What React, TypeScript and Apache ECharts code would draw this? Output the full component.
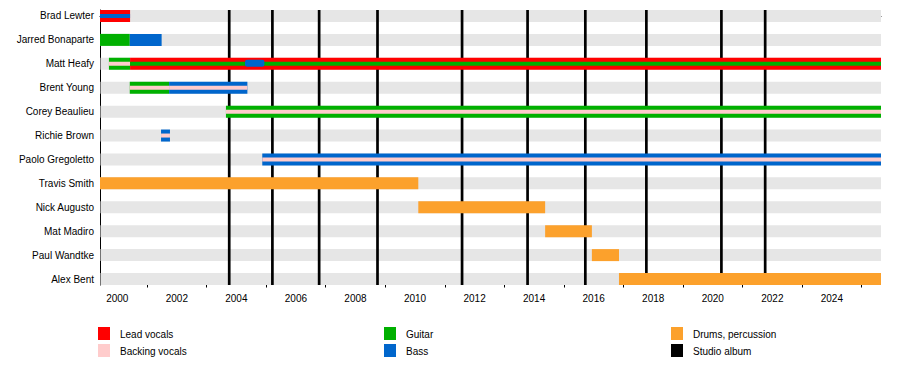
import React, { useEffect, useRef } from "react";
import * as echarts from "echarts";

const START = 1999.42;
const END = 2025.65;

const members = [
  "Brad Lewter",
  "Jarred Bonaparte",
  "Matt Heafy",
  "Brent Young",
  "Corey Beaulieu",
  "Richie Brown",
  "Paolo Gregoletto",
  "Travis Smith",
  "Nick Augusto",
  "Mat Madiro",
  "Paul Wandtke",
  "Alex Bent",
];

const roles = ["Lead vocals", "Backing vocals", "Guitar", "Bass", "Drums, percussion", "Studio album"];

// [member, start, end, main role, inner-stripe role]
const segments: [string, number, number, string, string][] = [
  ["Brad Lewter", START, 2000.43, "Lead vocals", "Bass"],
  ["Jarred Bonaparte", START, 2000.42, "Guitar", ""],
  ["Jarred Bonaparte", 2000.42, 2001.49, "Bass", ""],
  ["Matt Heafy", 1999.72, 2000.43, "Guitar", "Backing vocals"],
  ["Matt Heafy", 2000.43, END, "Lead vocals", "Guitar"],
  ["Brent Young", 2000.42, 2001.74, "Guitar", "Backing vocals"],
  ["Brent Young", 2001.74, 2004.37, "Bass", "Backing vocals"],
  ["Corey Beaulieu", 2003.65, END, "Guitar", "Backing vocals"],
  ["Richie Brown", 2001.47, 2001.77, "Bass", "Backing vocals"],
  ["Paolo Gregoletto", 2004.87, END, "Bass", "Backing vocals"],
  ["Travis Smith", START, 2010.11, "Drums, percussion", ""],
  ["Nick Augusto", 2010.11, 2014.37, "Drums, percussion", ""],
  ["Mat Madiro", 2014.37, 2015.94, "Drums, percussion", ""],
  ["Paul Wandtke", 2015.94, 2016.85, "Drums, percussion", ""],
  ["Alex Bent", 2016.85, END, "Drums, percussion", ""],
];

// brief roles drawn as a short stripe over an existing bar
const briefRoles: [string, number, number, string][] = [["Matt Heafy", 2004.29, 2004.94, "Bass"]];

// studio albums
const albumNames = [
  "Ember to Inferno",
  "Ascendancy",
  "The Crusade",
  "Shogun",
  "In Waves",
  "Vengeance Falls",
  "Silence in the Snow",
  "The Sin and the Sentence",
  "What the Dead Men Say",
  "In the Court of the Dragon",
];
const albumDates = [2003.76, 2005.21, 2006.78, 2008.74, 2011.58, 2013.78, 2015.72, 2017.77, 2020.29, 2021.76];

const majorTicks = [2000, 2002, 2004, 2006, 2008, 2010, 2012, 2014, 2016, 2018, 2020, 2022, 2024];
const minorTicks = [1999, 2001, 2003, 2005, 2007, 2009, 2011, 2013, 2015, 2017, 2019, 2021, 2023, 2025];

const roleColors: Record<string, string> = {
  "Lead vocals": "#ff0000",
  "Backing vocals": "#ffcccc",
  Guitar: "#00b000",
  Bass: "#0066cc",
  "Drums, percussion": "#fca12c",
  "Studio album": "#000000",
};

const FONT = "'Liberation Sans', Arial, sans-serif";

export default function App() {
  const ref = useRef<HTMLDivElement>(null);
  useEffect(() => {
    if (!ref.current) return;
    const chart = echarts.init(ref.current, null, { renderer: "svg" });
    const BAR_H = 12;
    const INNER_H = 4;
    const BRIEF_H = 7;

    const legendCols = [98, 384, 671];
    const legendGraphics: any[] = [];
    roles.forEach((r, i) => {
      const col = Math.floor(i / 2);
      const row = i % 2;
      const x = legendCols[col];
      const y = 327 + row * 17;
      legendGraphics.push({
        type: "rect",
        left: x,
        top: y,
        shape: { width: 12, height: 13 },
        style: { fill: roleColors[r] },
      });
      legendGraphics.push({
        type: "text",
        left: x + 22,
        top: y + 2,
        style: { text: r, fontSize: 10, fontFamily: FONT, fill: "#000" },
      });
    });

    const option: any = {
      animation: false,
      grid: { left: 100, top: 10, right: 19, bottom: 80 },
      xAxis: [
        {
          type: "value",
          min: START,
          max: END,
          position: "bottom",
          splitLine: { show: false },
          axisLine: { show: true, lineStyle: { color: "#000", width: 1 } },
          axisTick: { show: true, customValues: majorTicks, length: 5, lineStyle: { color: "#000" } },
          axisLabel: {
            customValues: majorTicks,
            formatter: (v: number) => String(Math.round(v)),
            fontSize: 10,
            fontFamily: FONT,
            color: "#000",
            margin: 8,
          },
        },
        {
          type: "value",
          min: START,
          max: END,
          position: "bottom",
          offset: 0,
          splitLine: { show: false },
          axisLine: { show: false },
          axisTick: { show: true, customValues: minorTicks, length: 2.5, lineStyle: { color: "#000" } },
          axisLabel: { show: false },
        },
      ],
      yAxis: {
        type: "value",
        inverse: true,
        min: -0.25,
        max: 11.25,
        splitLine: { show: false },
        axisLine: { show: true, lineStyle: { color: "#000", width: 1 } },
        axisTick: { show: false },
        axisLabel: {
          customValues: members.map((_, i) => i),
          formatter: (v: number) => members[Math.round(v)] ?? "",
          fontSize: 10,
          fontFamily: FONT,
          color: "#000",
          margin: 6,
        },
      },
      series: [
        {
          type: "custom",
          name: "bands",
          xAxisIndex: 0,
          yAxisIndex: 0,
          encode: { x: [0, 1], y: 2 },
          data: members.map((_, i) => [START, END, i]),
          renderItem: (params: any, api: any) => {
            const p0 = api.coord([api.value(0), api.value(2)]);
            const p1 = api.coord([api.value(1), api.value(2)]);
            return {
              type: "rect",
              shape: { x: p0[0] + 0.5, y: p0[1] - BAR_H / 2, width: p1[0] - p0[0] - 0.5, height: BAR_H },
              style: { fill: "#e6e6e6" },
            };
          },
        },
        {
          type: "custom",
          name: "Studio album",
          xAxisIndex: 0,
          yAxisIndex: 0,
          encode: { x: 0 },
          data: albumDates.map((d, i) => ({ name: albumNames[i], value: [d] })),
          renderItem: (params: any, api: any) => {
            const t = api.coord([api.value(0), -0.25]);
            const b = api.coord([api.value(0), 11.25]);
            return {
              type: "line",
              shape: { x1: t[0], y1: t[1], x2: b[0], y2: b[1] },
              style: { stroke: roleColors["Studio album"], lineWidth: 2.7 },
            };
          },
        },
        {
          type: "custom",
          name: "members",
          xAxisIndex: 0,
          yAxisIndex: 0,
          encode: { x: [0, 1], y: 2 },
          data: segments.map((s) => [s[1], s[2], members.indexOf(s[0])]),
          renderItem: (params: any, api: any) => {
            const s = segments[params.dataIndex];
            const p0 = api.coord([api.value(0), api.value(2)]);
            const p1 = api.coord([api.value(1), api.value(2)]);
            const w = p1[0] - p0[0];
            const children: any[] = [
              {
                type: "rect",
                shape: { x: p0[0], y: p0[1] - BAR_H / 2, width: w, height: BAR_H },
                style: { fill: roleColors[s[3]] },
              },
            ];
            if (s[4]) {
              children.push({
                type: "rect",
                shape: { x: p0[0], y: p0[1] - INNER_H / 2, width: w, height: INNER_H },
                style: { fill: roleColors[s[4]] },
              });
            }
            return { type: "group", children };
          },
        },
        {
          type: "custom",
          name: "brief",
          xAxisIndex: 0,
          yAxisIndex: 0,
          encode: { x: [0, 1], y: 2 },
          data: briefRoles.map((s) => [s[1], s[2], members.indexOf(s[0])]),
          renderItem: (params: any, api: any) => {
            const s = briefRoles[params.dataIndex];
            const p0 = api.coord([api.value(0), api.value(2)]);
            const p1 = api.coord([api.value(1), api.value(2)]);
            return {
              type: "rect",
              shape: { x: p0[0], y: p0[1] - BRIEF_H / 2 - 0.5, width: p1[0] - p0[0], height: BRIEF_H, r: 2 },
              style: { fill: roleColors[s[3]] },
            };
          },
        },
      ],
      graphic: legendGraphics,
    };
    chart.setOption(option);
    return () => chart.dispose();
  }, []);
  return (
    <div
      ref={ref}
      style={{ position: "fixed", left: 0, top: 0, width: 900, height: 365, background: "#fff" }}
    />
  );
}
